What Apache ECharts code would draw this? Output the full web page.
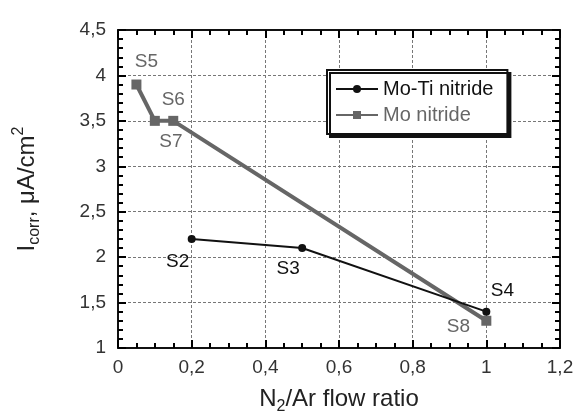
<!DOCTYPE html>
<html>
<head>
<meta charset="utf-8">
<script src="https://cdn.jsdelivr.net/npm/echarts@6/dist/echarts.min.js"></script>
<style>
  html, body { margin: 0; padding: 0; background: #fff; }
</style>
</head>
<body>
<div id="chart" style="width: 579px; height: 417px;"></div>
<script>
// data
const moTiRatio = [0.2, 0.5, 1.0];
const moTiIcorr = [2.2, 2.1, 1.4];
const moTiNames = ["S2", "S3", "S4"];

const moRatio = [0.05, 0.1, 0.15, 1.0];
const moIcorr = [3.9, 3.5, 3.5, 1.3];
const moNames = ["S5", "S7", "S6", "S8"];

// label placement per point (style only)
const moTiLabelPos = [[-14, 23], [-14, 21], [16, -21]];
const moLabelPos = [[10, -23], [16, 21], [0, -21], [-28, 6]];

const font = "Liberation Sans, Arial, sans-serif";
const chart = echarts.init(document.getElementById("chart"));

const mkData = (xs, ys, names, pos, color) =>
  xs.map((x, i) => ({
    value: [x, ys[i]],
    label: {
      show: true,
      formatter: names[i],
      position: "inside",
      offset: pos[i],
      color: color,
      fontSize: 19,
      fontFamily: font,
    },
  }));

const fmt = (v) => String(+v.toFixed(1)).replace(".", ",");

// fresh objects per axis
const line = () => ({ show: true, onZero: false, lineStyle: { color: "#111", width: 2 } });
const tick = () => ({ show: true, inside: true, length: 8, lineStyle: { color: "#000", width: 2 } });
const minor = (n) => ({ show: true, splitNumber: n, length: 5, lineStyle: { color: "#000", width: 2 } });
const grid = () => ({ show: true, lineStyle: { color: "#777", type: [3, 2], width: 1 } });

chart.setOption({
  animation: false,
  backgroundColor: "#fff",
  grid: { left: 118, right: 19, top: 30, bottom: 69, outerBoundsMode: "none" },
  legend: {
    left: 327,
    top: 70,
    orient: "vertical",
    backgroundColor: "#fff",
    borderColor: "#111",
    borderWidth: 2,
    borderRadius: 0,
    shadowColor: "#111",
    shadowOffsetX: 3,
    shadowOffsetY: 3,
    shadowBlur: 0,
    padding: [9, 14, 9, 8],
    itemGap: 6,
    itemWidth: 42,
    itemHeight: 10,
    textStyle: { fontSize: 20, fontFamily: font },
    data: [
      { name: "Mo-Ti nitride", textStyle: { color: "#111" } },
      { name: "Mo nitride", textStyle: { color: "#666" } },
    ],
  },
  xAxis: [
    {
      type: "value",
      position: "bottom",
      min: 0,
      max: 1.2,
      interval: 0.2,
      name: "{a|N}{sub|2}{a|/Ar flow ratio}",
      nameLocation: "middle",
      nameGap: 35,
      nameTextStyle: {
        rich: {
          a: { fontSize: 24, fontFamily: font, color: "#222" },
          sub: { fontSize: 16, fontFamily: font, color: "#222", padding: [16, 0, 0, 0] },
        },
      },
      axisLine: line(),
      axisTick: tick(),
      minorTick: minor(4),
      axisLabel: { fontSize: 19, fontFamily: font, color: "#333", margin: 10, formatter: fmt },
      splitLine: grid(),
    },
    {
      type: "value",
      position: "top",
      min: 0,
      max: 1.2,
      interval: 0.2,
      axisLine: line(),
      axisTick: tick(),
      minorTick: minor(4),
      axisLabel: { show: false },
      splitLine: { show: false },
    },
  ],
  yAxis: [
    {
      type: "value",
      position: "left",
      min: 1,
      max: 4.5,
      interval: 0.5,
      name: "{a|I}{sub|corr}{a|, μA/cm}{sup|2}",
      nameLocation: "middle",
      nameRotate: 90,
      nameGap: 75,
      nameTextStyle: {
        rich: {
          a: { fontSize: 24, fontFamily: font, color: "#222" },
          sub: { fontSize: 16, fontFamily: font, color: "#222", padding: [16, 0, 0, 0] },
          sup: { fontSize: 16, fontFamily: font, color: "#222", padding: [0, 0, 16, 0] },
        },
      },
      axisLine: line(),
      axisTick: tick(),
      minorTick: minor(5),
      axisLabel: { fontSize: 19, fontFamily: font, color: "#333", margin: 12, formatter: fmt },
      splitLine: grid(),
    },
    {
      type: "value",
      position: "right",
      min: 1,
      max: 4.5,
      interval: 0.5,
      axisLine: line(),
      axisTick: tick(),
      minorTick: minor(5),
      axisLabel: { show: false },
      splitLine: { show: false },
    },
  ],
  series: [
    {
      name: "Mo-Ti nitride",
      type: "line",
      symbol: "circle",
      symbolSize: 8,
      color: "#111",
      lineStyle: { color: "#111", width: 2 },
      itemStyle: { color: "#111" },
      data: mkData(moTiRatio, moTiIcorr, moTiNames, moTiLabelPos, "#111"),
      z: 3,
    },
    {
      name: "Mo nitride",
      type: "line",
      symbol: "rect",
      symbolSize: 10,
      color: "#666",
      lineStyle: { color: "#666", width: 4 },
      itemStyle: { color: "#666" },
      data: mkData(moRatio, moIcorr, moNames, moLabelPos, "#666"),
      z: 2,
    },
  ],
});
</script>
</body>
</html>
